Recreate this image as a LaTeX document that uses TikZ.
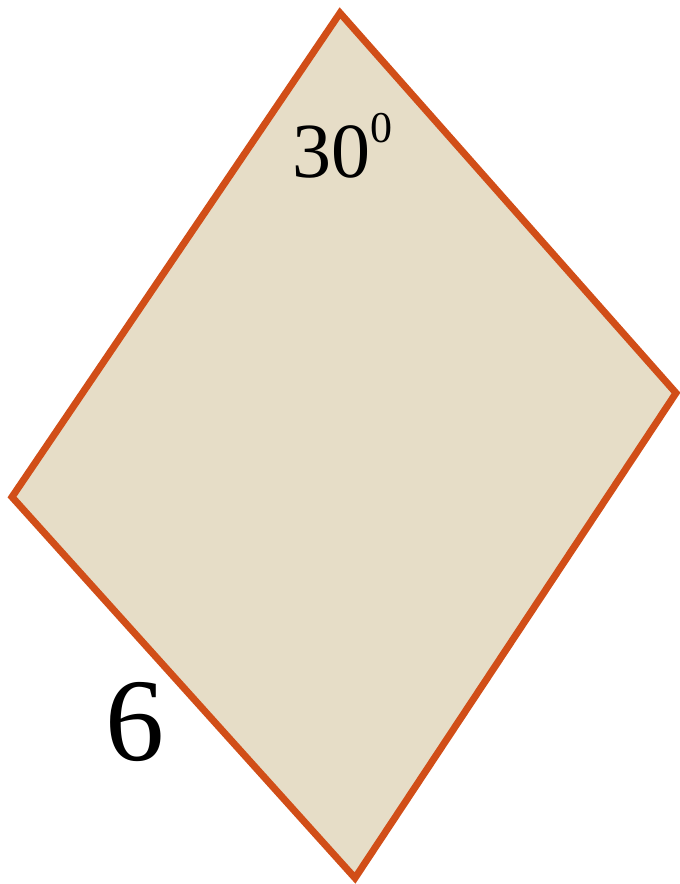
\documentclass[tikz,border=0pt]{standalone}
\usepackage{fontspec}
\setmainfont{Liberation Serif}
\definecolor{rhfill}{RGB}{230,221,199}
\definecolor{rhline}{RGB}{209,78,24}
\begin{document}
\begin{tikzpicture}[x=1pt,y=-1pt,
  rhombus/.style={draw=rhline,fill=rhfill,line width=7pt,line join=miter},
  lbl/.style={anchor=base west,inner sep=0pt,text=black}]
\useasboundingbox (0,0) rectangle (680,884);
\coordinate (T) at (340,13);
\coordinate (R) at (676,393);
\coordinate (B) at (355,878);
\coordinate (L) at (12,497);
\draw[rhombus] (T) -- (R) -- (B) -- (L) -- cycle;
\node[lbl,font=\fontsize{78}{78}\selectfont] (ang) at (292,177) {30\raisebox{35pt}{\fontsize{44}{44}\selectfont 0}};
\node[lbl,font=\fontsize{118}{118}\selectfont] (side) at (105,760) {6};
\end{tikzpicture}
\end{document}
